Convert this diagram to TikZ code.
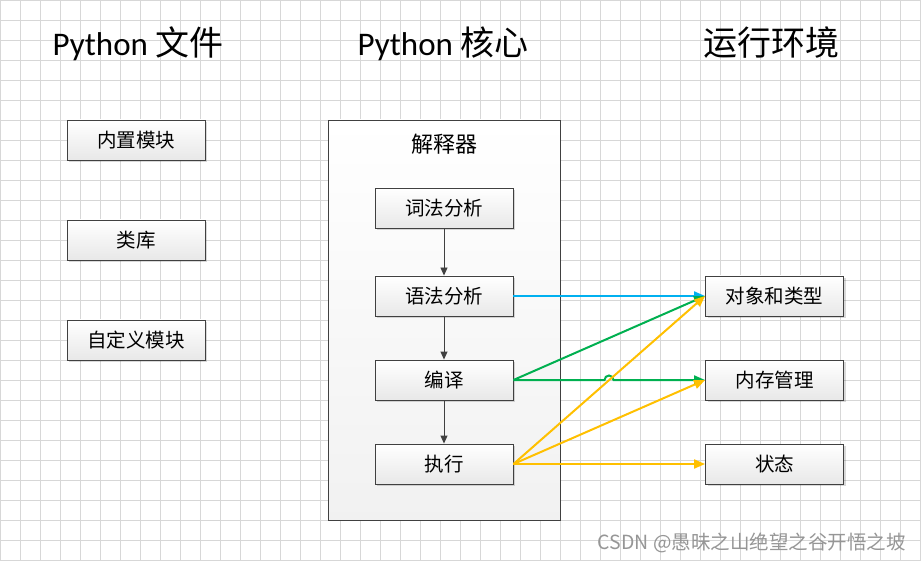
\documentclass[tikz,border=0pt]{standalone}
\usepackage{fontspec}
\setmainfont{Carlito}
\newfontfamily\cjk{Noto Sans CJK SC}
\usetikzlibrary{arrows.meta,shadows}
\definecolor{gridc}{RGB}{215,215,215}
\definecolor{boxborder}{RGB}{64,64,64}
\definecolor{boxbot}{RGB}{232,232,232}
\definecolor{arrblue}{RGB}{0,176,240}
\definecolor{arrgreen}{RGB}{0,176,80}
\definecolor{arryellow}{RGB}{255,192,0}
\definecolor{wm}{RGB}{150,150,150}
\tikzset{
  gridline/.style={draw=gridc, line width=0.8pt},
  box/.style={draw=boxborder, line width=0.9pt, minimum width=138pt, minimum height=40pt,
    inner sep=0pt, top color=white, bottom color=boxbot,
    drop shadow={shadow xshift=2pt, shadow yshift=-2pt, fill=black, opacity=0.15},
    font=\cjk\fontsize{19.5}{22}\selectfont},
  container/.style={draw=boxborder, line width=0.9pt, minimum width=232pt, minimum height=400pt,
    inner sep=0pt, top color=white, bottom color=boxbot!60},
  title/.style={anchor=base, inner sep=0pt, font=\fontsize{33}{39}\selectfont},
  grayarrow/.style={draw=boxborder, line width=0.9pt, -{Triangle[length=8pt,width=7pt]}},
  colarrow/.style={line width=2pt, -{Triangle[length=11pt,width=9pt]}},
}
\begin{document}
\begin{tikzpicture}[x=1pt,y=-1pt]
\useasboundingbox (0,0) rectangle (921,561);
\fill[white] (0,0) rectangle (921,561);
\foreach \x in {0,20,...,920} \draw[gridline] (\x,0) -- (\x,561);
\foreach \y in {0,20,...,560} \draw[gridline] (0,\y) -- (921,\y);

% titles
\node[title] (t1) at (138,56) {Python {\cjk\fontsize{34}{40}\selectfont 文件}};
\node[title] (t2) at (443,56) {Python {\cjk\fontsize{34}{40}\selectfont 核心}};
\node[title] (t3) at (771,56) {\cjk\fontsize{34}{40}\selectfont 运行环境};

% left column
\node[box] (nz) at (136,140) {内置模块};
\node[box] (lk) at (136,240) {类库};
\node[box] (zd) at (136,340) {自定义模块};

% container
\node[container] (core) at (444,320) {};
\node[inner sep=0pt, font=\cjk\fontsize{22}{26}\selectfont] (jsq) at (444,144) {解释器};

\node[box] (cf) at (444,208) {词法分析};
\node[box] (yf) at (444,296) {语法分析};
\node[box] (by) at (444,380) {编译};
\node[box] (zx) at (444,464) {执行};

% right column
\node[box] (dx) at (774.5,296) {对象和类型};
\node[box] (nc) at (774.5,380) {内存管理};
\node[box] (zt) at (774.5,464) {状态};

% inner arrows
\draw[grayarrow] (cf.south) -- (yf.north);
\draw[grayarrow] (yf.south) -- (by.north);
\draw[grayarrow] (by.south) -- (zx.north);

% coloured arrows
\draw[colarrow, arrblue] (yf.east) -- (dx.west);
\draw[colarrow, arrgreen] (by.east) -- (dx.west);
\coordinate (j1) at (604.5,380);
\draw[colarrow, arrgreen] (by.east) -- (j1) arc[start angle=180, end angle=360, radius=4.5] -- (nc.west);
\draw[colarrow, arryellow] (zx.east) -- (dx.west);
\draw[colarrow, arryellow] (zx.east) -- (nc.west);
\draw[colarrow, arryellow] (zx.east) -- (zt.west);

% watermark
\node[anchor=east, inner sep=0pt, text=wm, font=\cjk\fontsize{19.5}{23}\selectfont] (wmk) at (906,543) {CSDN @愚昧之山绝望之谷开悟之坡};
\end{tikzpicture}
\end{document}
